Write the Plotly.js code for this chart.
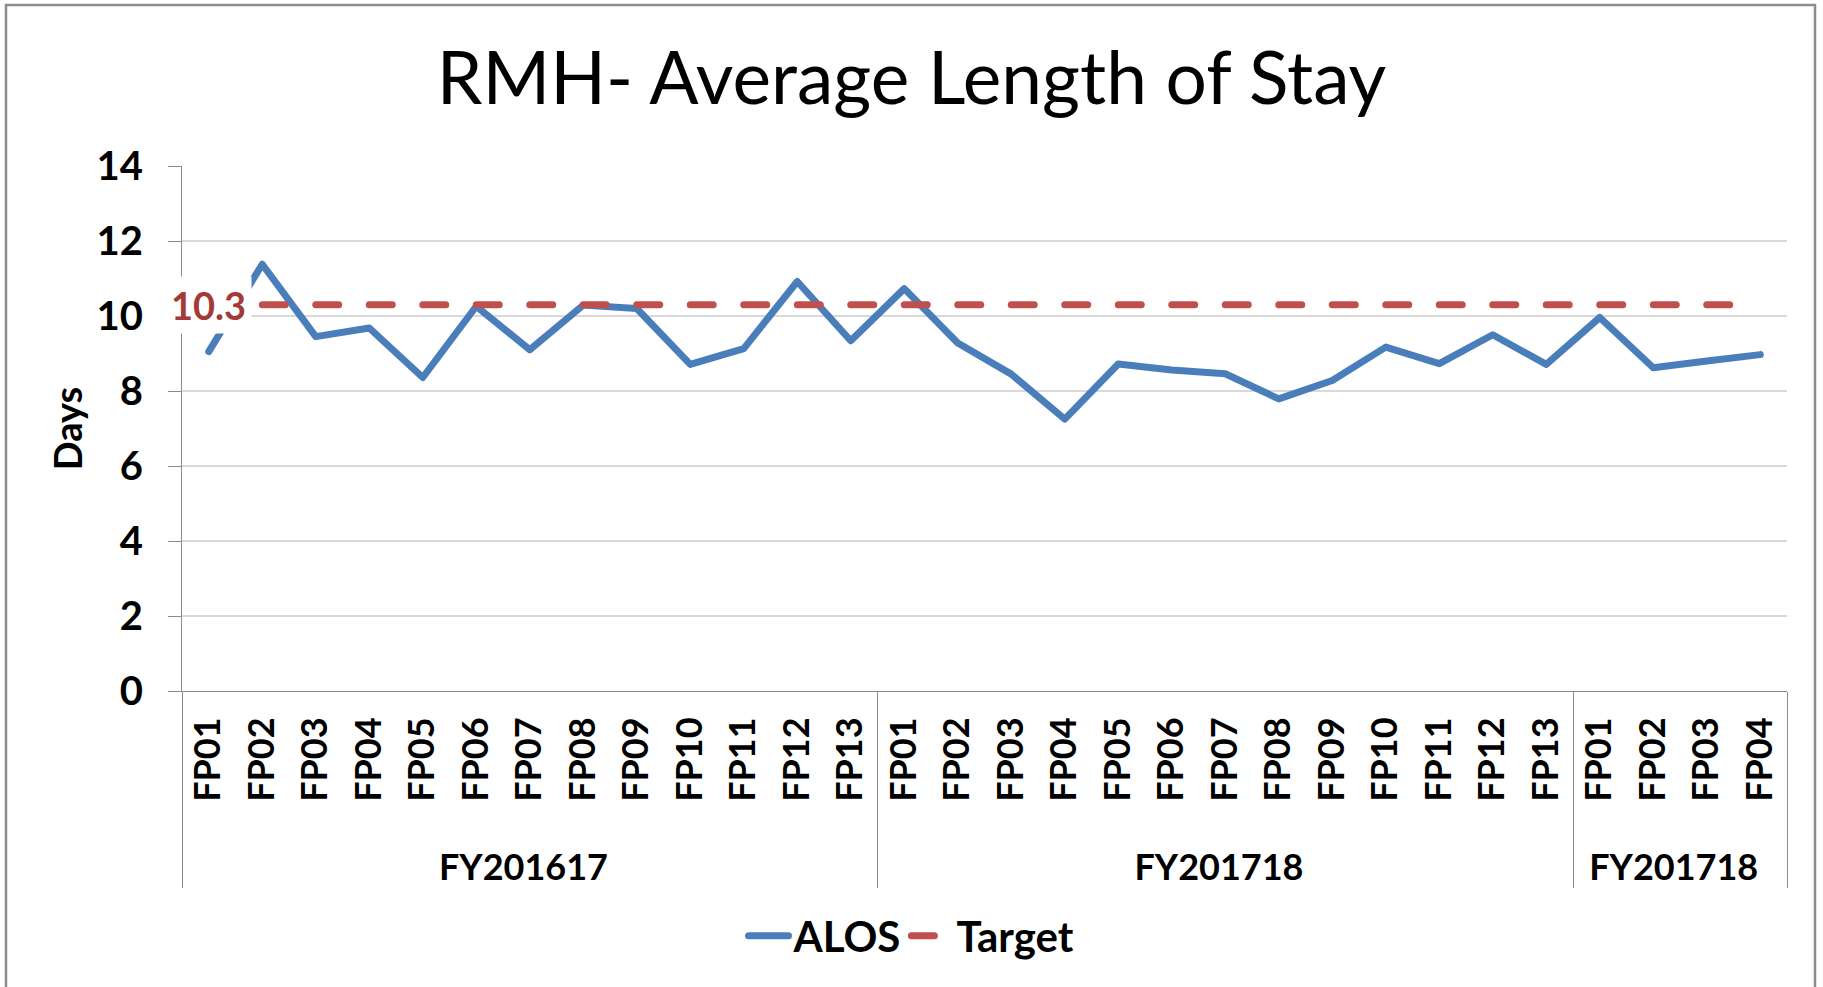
<!DOCTYPE html>
<html>
<head>
<meta charset="utf-8">
<script src="https://cdn.plot.ly/plotly-3.0.1.min.js"></script>
<style>
  html, body { margin: 0; padding: 0; background: #ffffff; }
  #chart { width: 1823px; height: 987px; }
  .scatterlayer .js-line, .legendlines path { stroke-linecap: round; stroke-linejoin: round; }
</style>
</head>
<body>
<div id="chart"></div>
<script>
// ---- Data ----
const fiscalYears = [
  'FY201617','FY201617','FY201617','FY201617','FY201617','FY201617','FY201617',
  'FY201617','FY201617','FY201617','FY201617','FY201617','FY201617',
  'FY201718','FY201718','FY201718','FY201718','FY201718','FY201718','FY201718',
  'FY201718','FY201718','FY201718','FY201718','FY201718','FY201718',
  'FY201718\u200B','FY201718\u200B','FY201718\u200B','FY201718\u200B'
];
const periods = [
  'FP01','FP02','FP03','FP04','FP05','FP06','FP07','FP08','FP09','FP10','FP11','FP12','FP13',
  'FP01','FP02','FP03','FP04','FP05','FP06','FP07','FP08','FP09','FP10','FP11','FP12','FP13',
  'FP01','FP02','FP03','FP04'
];
const alos = [
  9.05, 11.38, 9.45, 9.68, 8.36, 10.26, 9.10, 10.29, 10.20, 8.71, 9.13, 10.92, 9.34,
  10.73, 9.28, 8.45, 7.25, 8.72, 8.56, 8.46, 7.79, 8.28, 9.17, 8.73, 9.50, 8.71,
  9.96, 8.62, 8.80, 8.97
];
const target = [
  10.3, 10.3, 10.3, 10.3, 10.3, 10.3, 10.3, 10.3, 10.3, 10.3, 10.3, 10.3, 10.3,
  10.3, 10.3, 10.3, 10.3, 10.3, 10.3, 10.3, 10.3, 10.3, 10.3, 10.3, 10.3, 10.3,
  10.3, 10.3, 10.3, 10.3
];
const yTicks = [0, 2, 4, 6, 8, 10, 12, 14];

// ---- Styling ----
const FONT = 'Lato, "Open Sans", sans-serif';
const AXIS_GRAY = '#8c8c8c';
const n = periods.length;
// invisible leading padding so the year row sits lower, as in the reference
const LABEL_PAD = '\u00A0\u00A0\u2009';
const periodLabels = periods.map(p => LABEL_PAD + p);

const traces = [
  {
    type: 'scatter', mode: 'lines', name: 'ALOS',
    x: [fiscalYears, periodLabels], y: alos,
    line: { color: '#4A7EBB', width: 7 },
    hoverinfo: 'y'
  },
  {
    type: 'scatter', mode: 'lines', name: 'Target',
    x: [fiscalYears, periodLabels], y: target,
    line: { color: '#C0504D', width: 7, dash: '23px,30.5px' },
    hoverinfo: 'y'
  }
];

const layout = {
  width: 1823, height: 987,
  paper_bgcolor: '#ffffff', plot_bgcolor: '#ffffff',
  margin: { l: 182, r: 36, t: 166, b: 296, pad: 0 },
  font: { family: FONT, color: '#000000' },
  title: {
    text: 'RMH- Average Length of Stay',
    font: { family: FONT, size: 73, color: '#000000' },
    x: 0.5, xref: 'container', xanchor: 'center',
    y: 1 - 78 / 987, yref: 'container', yanchor: 'middle'
  },
  showlegend: true,
  legend: {
    orientation: 'h',
    x: 0.5, xref: 'container', xanchor: 'center',
    y: 1 - 936 / 987, yref: 'container', yanchor: 'middle',
    font: { family: FONT, size: 42, color: '#000000', weight: 700 },
    itemwidth: 40
  },
  xaxis: {
    type: 'multicategory',
    range: [-0.5, n - 0.5],
    showgrid: false, zeroline: false,
    showline: true, linecolor: AXIS_GRAY, linewidth: 1,
    ticks: '',
    tickangle: -90,
    ticklabelstandoff: 11,
    tickfont: { family: FONT, size: 36, color: '#000000', weight: 700 },
    showdividers: true, dividercolor: AXIS_GRAY, dividerwidth: 1
  },
  xaxis2: {
    type: 'linear',
    overlaying: 'x', anchor: 'y', side: 'bottom',
    range: [-0.5, n - 0.5],
    tickmode: 'linear', tick0: -0.5, dtick: 1,
    ticks: 'outside', ticklen: 112, tickwidth: 1, tickcolor: AXIS_GRAY,
    showticklabels: false, showgrid: false, zeroline: false, showline: false
  },
  yaxis: {
    range: [0, 14],
    tickmode: 'array', tickvals: yTicks, ticktext: yTicks.map(String),
    showgrid: true, gridcolor: '#d9d9d9', gridwidth: 1.5,
    zeroline: false,
    showline: true, linecolor: AXIS_GRAY, linewidth: 1,
    ticks: 'outside', ticklen: 13, tickwidth: 1, tickcolor: AXIS_GRAY,
    ticklabelstandoff: 17,
    tickfont: { family: FONT, size: 40, color: '#000000', weight: 700 },
    title: { text: 'Days', font: { family: FONT, size: 38, color: '#000000', weight: 700 }, standoff: 2 }
  },
  annotations: [
    {
      x: 0, y: target[0], xref: 'x', yref: 'y',
      text: String(target[0]),
      showarrow: false,
      font: { family: FONT, size: 38, color: '#A33A38', weight: 700 },
      bgcolor: '#ffffff', borderpad: 5,
      xanchor: 'center', yanchor: 'middle'
    }
  ],
  shapes: [
    {
      type: 'rect', xref: 'paper', yref: 'paper', layer: 'above',
      x0: (6 - 182) / 1605, x1: (1815 - 182) / 1605,
      y0: (691 - 1010) / 525, y1: (691 - 5) / 525,
      line: { color: '#8c8c8c', width: 2.5 }, fillcolor: 'rgba(0,0,0,0)'
    }
  ]
};

Plotly.newPlot('chart', traces, layout, { displayModeBar: false, staticPlot: true });
</script>
</body>
</html>
